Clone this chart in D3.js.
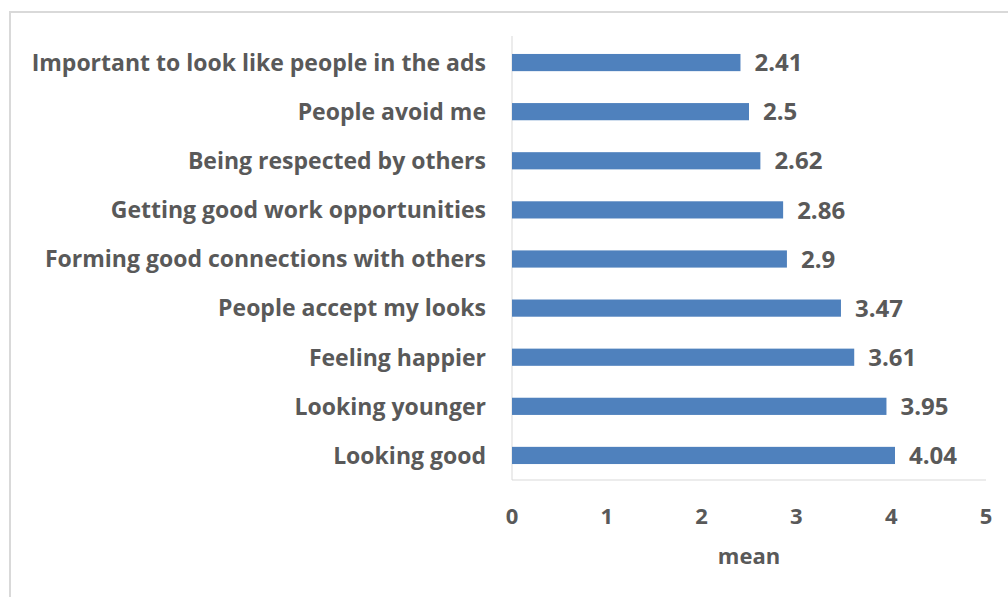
<!DOCTYPE html>
<html lang="en">
<head>
<meta charset="UTF-8">
<title>Mean ratings</title>
<script src="https://d3js.org/d3.v7.min.js"></script>
<style>
    body { margin: 0; background: #fff; }
    text { font-family: "Open Sans", sans-serif; font-weight: bold; fill: #595959; }
</style>
</head>
<body>
<svg id="chart" width="1008" height="597"></svg>
<script>
    // categories top to bottom
    const categories = [
        "Important to look like people in the ads",
        "People avoid me",
        "Being respected by others",
        "Getting good work opportunities",
        "Forming good connections with others",
        "People accept my looks",
        "Feeling happier",
        "Looking younger",
        "Looking good"
    ];
    const means = [2.41, 2.5, 2.62, 2.86, 2.9, 3.47, 3.61, 3.95, 4.04];
    const xTicks = [0, 1, 2, 3, 4, 5];

    const svg = d3.select("#chart");

    // chart area border (runs off the right and bottom edges)
    svg.append("rect")
        .attr("x", 10).attr("y", 12)
        .attr("width", 1100).attr("height", 700)
        .attr("fill", "none")
        .attr("stroke", "#d9d9d9")
        .attr("stroke-width", 2);

    const x = d3.scaleLinear().domain([0, 5]).range([512, 986]);
    const y = d3.scaleBand().domain(categories).range([38, 480])
        .paddingInner(0.65).paddingOuter(0.325);

    // axis lines
    svg.append("line")
        .attr("x1", x(0)).attr("x2", x(0))
        .attr("y1", 36).attr("y2", 480)
        .attr("stroke", "#d9d9d9").attr("stroke-width", 1);
    svg.append("line")
        .attr("x1", x(0)).attr("x2", x(5))
        .attr("y1", 480).attr("y2", 480)
        .attr("stroke", "#d9d9d9").attr("stroke-width", 1);

    svg.selectAll(".bar")
        .data(means)
        .enter()
        .append("rect")
        .attr("class", "bar")
        .attr("x", x(0))
        .attr("y", (d, i) => y(categories[i]))
        .attr("width", d => x(d) - x(0))
        .attr("height", y.bandwidth())
        .attr("fill", "#4f81bd");

    svg.selectAll(".val")
        .data(means)
        .enter()
        .append("text")
        .attr("class", "val")
        .attr("x", d => x(d) + 14)
        .attr("y", (d, i) => y(categories[i]) + y.bandwidth() / 2)
        .attr("dy", "0.36em")
        .attr("font-size", 24)
        .text(d => d);

    svg.selectAll(".cat")
        .data(categories)
        .enter()
        .append("text")
        .attr("class", "cat")
        .attr("x", 486)
        .attr("y", d => y(d) + y.bandwidth() / 2)
        .attr("dy", "0.36em")
        .attr("text-anchor", "end")
        .attr("font-size", 23)
        .text(d => d);

    svg.selectAll(".tick")
        .data(xTicks)
        .enter()
        .append("text")
        .attr("class", "tick")
        .attr("x", d => x(d))
        .attr("y", 516)
        .attr("dy", "0.36em")
        .attr("text-anchor", "middle")
        .attr("font-size", 22)
        .text(d => d);

    svg.append("text")
        .attr("x", x(2.5))
        .attr("y", 556)
        .attr("dy", "0.36em")
        .attr("text-anchor", "middle")
        .attr("font-size", 22)
        .text("mean");
</script>
</body>
</html>
